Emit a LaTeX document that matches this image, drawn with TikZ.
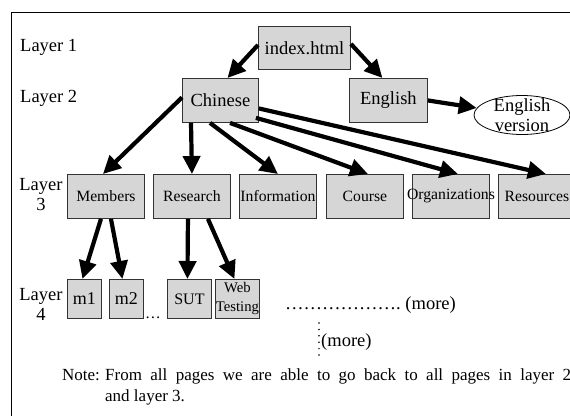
\documentclass[tikz,border=0pt]{standalone}
\usepackage{fontspec}
\setmainfont{Liberation Serif}
\usetikzlibrary{arrows.meta,calc,shapes.geometric}
% text that may run over the edges of its box without widening it
\newcommand\overhang[1]{\makebox[0pt]{#1}}
\begin{document}
\begin{tikzpicture}[x=1pt,y=-1pt,
  pagebox/.style={draw=black!80, fill=black!16, line width=0.9pt, inner sep=0pt, anchor=north west},
  bigtext/.style={font=\fontsize{18.5}{20}\selectfont},
  midtext/.style={font=\fontsize{15.7}{18}\selectfont},
  notetext/.style={font=\fontsize{17}{21}\selectfont},
  link/.style={line width=4.2pt, -{Triangle[length=18pt,width=17pt]}},
  layerlabel/.style={bigtext, inner sep=0pt, align=center}
]
\useasboundingbox (0,0) rectangle (570,415);
\clip (0,0) rectangle (570,415);

% frame
\draw[line width=1.5pt] (11.5,420) -- (11.5,12.5) -- (580,12.5);

% layer labels
\node[layerlabel, anchor=base west] (l1) at (20,51) {Layer 1};
\node[layerlabel, anchor=base west] (l2) at (20,102) {Layer 2};
\node[layerlabel] (l3) at (41,195) {Layer\\3};
\node[layerlabel] (l4) at (41,304) {Layer\\4};

% layer 1 and 2
\node[pagebox, bigtext, minimum width=92pt, minimum height=43pt] (index) at (258,26) {index.html};
\node[pagebox, bigtext, minimum width=76pt, minimum height=44pt] (chin) at (182,78) {Chinese};
\node[pagebox, bigtext, minimum width=78pt, minimum height=44pt] (eng) at (349,78) {English};
\node[draw=black, line width=0.8pt, ellipse, minimum width=96pt, minimum height=39pt, inner sep=0pt,
      label={[bigtext, align=center, inner sep=0pt]center:English\\version}] (ev) at (522,115) {};

% layer 3
\foreach \nm/\x/\txt in {mem/67/Members, res/153/Research, info/239/Information,
                         course/326/Course, org/412/Organizations, rsrc/498/Resources}
  \node[pagebox, midtext, minimum width=77pt, minimum height=44pt] (\nm) at (\x,174) {\overhang{\txt}};

% layer 4
\node[pagebox, font=\fontsize{18}{20}\selectfont, minimum width=34pt, minimum height=39pt] (m1) at (67,279) {m1};
\node[pagebox, font=\fontsize{18}{20}\selectfont, minimum width=34pt, minimum height=39pt] (m2) at (109,279) {m2};
\node[pagebox, font=\fontsize{16}{18}\selectfont, minimum width=44pt, minimum height=39pt] (sut) at (167,279) {SUT};
\node[pagebox, font=\fontsize{14.7}{19}\selectfont, align=center, minimum width=44pt, minimum height=39pt] (web) at (215,279) {Web\\\overhang{Testing}};
\node[midtext, inner sep=0pt, anchor=base west] (gap) at (145,318) {\ldots};

% further pages
\node[font=\fontsize{18.5}{20}\selectfont, inner sep=0pt, anchor=west] (more1) at (285,305) {……………….\ (more)};
\coordinate (vtop) at (319,323);
\coordinate (vbot) at (319,356);
\draw[line width=1.7pt, line cap=round, dash pattern=on 0pt off 6.4pt] (vtop) -- (vbot);
\node[font=\fontsize{18.5}{20}\selectfont, inner sep=0pt, anchor=west] (more2) at (321,342) {(more)};

% note
\node[notetext, inner sep=0pt, anchor=base west] (note) at (62,380)
  {\makebox[43pt][l]{Note:}\makebox[466pt][s]{From all pages we are able to go back to all pages in layer 2}};
\node[notetext, inner sep=0pt, anchor=base west] (noteb) at (105,401) {and layer 3.};

% links from layer 1
\draw[link] ($(index.west)+(0,-3)$) -- ($(chin.north)+(7,0)$);
\draw[link] ($(index.east)+(0,-4)$) -- ($(eng.north)+(-6,0)$);
\draw[link] (eng.east) -- (ev);

% links from Chinese
\draw[link] ($(chin.west)+(0,-3)$) -- ($(mem.north)+(-3,0)$);
\draw[link] ($(chin.south west)+(9,0)$) -- ($(res.north)+(0,0)$);
\draw[link] ($(chin.south west)+(28,0)$) -- (info.north);
\draw[link] ($(chin.south west)+(48,0)$) -- ($(course.north)+(3,0)$);
\draw[link] ($(chin.south east)+(-3,-5)$) -- ($(org.north)+(7,0)$);
\draw[link] ($(chin.east)+(0,8)$) -- ($(rsrc.north)+(9,0)$);

% links to layer 4
\draw[link] ($(mem.south)+(-5,0)$) -- ($(m1.north)+(-2,0)$);
\draw[link] ($(mem.south)+(5,0)$) -- ($(m2.north)+(-4,0)$);
\draw[link] ($(res.south)+(-4,0)$) -- ($(sut.north)+(-2,0)$);
\draw[link] ($(res.south)+(16,0)$) -- ($(web.north)+(-3,0)$);
\end{tikzpicture}
\end{document}
